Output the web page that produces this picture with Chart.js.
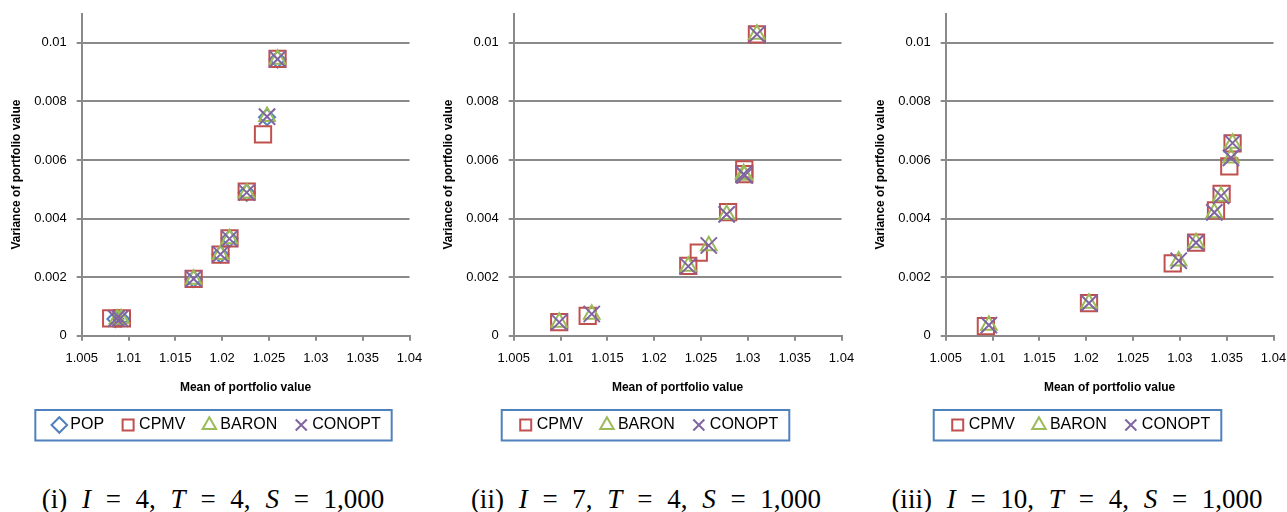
<!DOCTYPE html>
<html lang="en">
<head>
    <meta charset="UTF-8">
    <title>Mean-variance of portfolio value</title>
    <script src="https://cdn.jsdelivr.net/npm/chart.js"></script>
    <style>
        body { margin: 0; background: #fff; width: 1287px; height: 512px; position: relative; overflow: hidden; }
        .panel { position: absolute; top: 0; }
        .cap { position: absolute; top: 485px; line-height: 28px; white-space: nowrap; transform: translateX(-50%);
               font-family: 'Liberation Serif', 'DejaVu Serif', serif; font-size: 27px; color: #000;
               word-spacing: 8px; }
        .cap i { font-style: italic; }
    </style>
</head>
<body>
    <div class="panel" style="left:0px"><canvas id="c1" width="423" height="443"></canvas></div>
    <div class="panel" style="left:432px"><canvas id="c2" width="423" height="443"></canvas></div>
    <div class="panel" style="left:864px"><canvas id="c3" width="423" height="443"></canvas></div>

    <div class="cap" style="left:213px">(i) <i>I</i> = 4, <i>T</i> = 4, <i>S</i> = 1,000</div>
    <div class="cap" style="left:646px">(ii) <i>I</i> = 7, <i>T</i> = 4, <i>S</i> = 1,000</div>
    <div class="cap" style="left:1077px">(iii) <i>I</i> = 10, <i>T</i> = 4, <i>S</i> = 1,000</div>

    <script>
        // axis ticks
        const xTicks = [1.005, 1.01, 1.015, 1.02, 1.025, 1.03, 1.035, 1.04];
        const xTickLabels = ['1.005', '1.01', '1.015', '1.02', '1.025', '1.03', '1.035', '1.04'];
        const yTicks = [0, 0.002, 0.004, 0.006, 0.008, 0.01];
        const yTickLabels = ['0', '0.002', '0.004', '0.006', '0.008', '0.01'];

        // (i) I=4 : [mean, variance]
        const pop1    = [[1.0086, 0.00057], [1.0092, 0.00058], [1.01695, 0.00193], [1.01982, 0.00277], [1.02078, 0.00331], [1.02262, 0.00488], [1.02479, 0.00746], [1.02591, 0.00943]];
        const cpmv1   = [[1.00815, 0.00059], [1.00929, 0.00059], [1.01695, 0.00194], [1.01982, 0.00277], [1.02078, 0.00332], [1.02262, 0.00492], [1.02436, 0.00687], [1.02591, 0.00945]];
        const baron1  = [[1.0088, 0.00057], [1.0092, 0.00058], [1.01695, 0.00193], [1.01982, 0.00277], [1.02078, 0.00331], [1.02262, 0.00487], [1.02479, 0.00748], [1.02591, 0.00944]];
        const conopt1 = [[1.0087, 0.00058], [1.0091, 0.00058], [1.01695, 0.00194], [1.01982, 0.00278], [1.02078, 0.00331], [1.02262, 0.00489], [1.02479, 0.00748], [1.02591, 0.00944]];

        // (ii) I=7
        const cpmv2   = [[1.00986, 0.00046], [1.0129, 0.00068], [1.02364, 0.00238], [1.02476, 0.00284], [1.02789, 0.00422], [1.02962, 0.00568], [1.02962, 0.00552], [1.03097, 0.01029]];
        const baron2  = [[1.00986, 0.00046], [1.01333, 0.00073], [1.02364, 0.00237], [1.02583, 0.00307], [1.02774, 0.00414], [1.02955, 0.00553], [1.02962, 0.00548], [1.03097, 0.01029]];
        const conopt2 = [[1.00986, 0.00046], [1.01333, 0.00074], [1.02364, 0.00237], [1.02583, 0.00308], [1.02774, 0.00414], [1.02955, 0.00552], [1.02966, 0.00547], [1.03097, 0.01029]];

        // (iii) I=10
        const cpmv3   = [[1.00929, 0.00033], [1.0203, 0.00111], [1.02924, 0.00247], [1.03173, 0.00318], [1.03386, 0.00428], [1.03446, 0.00484], [1.03528, 0.00578], [1.03563, 0.00657]];
        const baron3  = [[1.00961, 0.00036], [1.0203, 0.00111], [1.02988, 0.00255], [1.03173, 0.00317], [1.03368, 0.0042], [1.0344, 0.00476], [1.03546, 0.00607], [1.03563, 0.00657]];
        const conopt3 = [[1.00961, 0.00036], [1.0203, 0.00111], [1.02988, 0.00256], [1.03173, 0.00318], [1.03368, 0.00421], [1.0344, 0.00477], [1.03546, 0.00607], [1.03563, 0.00658]];

        const styles = {
            POP:    { color: '#4f81bd', pointStyle: 'rectRot',  radius: 8,    order: 4 },
            CPMV:   { color: '#c0504d', pointStyle: 'rect',     radius: 11.5, order: 3 },
            BARON:  { color: '#9bbb59', pointStyle: 'triangle', radius: 9,    order: 2 },
            CONOPT: { color: '#8064a2', pointStyle: 'crossRot', radius: 11.5, order: 1 }
        };

        const gridGray = '#8a8a8a';
        Chart.defaults.font.family = "'Liberation Sans', Arial, sans-serif";
        Chart.defaults.color = '#000';

        // blue frame round the legend items
        const legendFrame = {
            id: 'legendFrame',
            afterDraw(chart) {
                const boxes = chart.legend && chart.legend.legendHitBoxes;
                if (!boxes || !boxes.length) return;
                const l = Math.min(...boxes.map(b => b.left)) - 21;
                const r = Math.max(...boxes.map(b => b.left + b.width)) + 11;
                const t = boxes[0].top - 7;
                const btm = boxes[0].top + boxes[0].height + 7.5;
                const ctx = chart.ctx;
                ctx.save();
                ctx.strokeStyle = '#4f81bd';
                ctx.lineWidth = 2;
                ctx.strokeRect(l, t, r - l, btm - t);
                ctx.restore();
            }
        };

        function makeChart(id, series) {
            const datasets = Object.keys(series).map(name => {
                const s = styles[name];
                return {
                    label: name,
                    data: series[name].map(p => ({ x: p[0], y: p[1] })),
                    pointStyle: s.pointStyle,
                    pointRadius: s.radius,
                    pointHoverRadius: s.radius,
                    borderColor: s.color,
                    backgroundColor: 'rgba(0,0,0,0)',
                    borderWidth: 2,
                    order: s.order
                };
            });

            new Chart(document.getElementById(id), {
                type: 'scatter',
                data: { datasets },
                options: {
                    responsive: false,
                    animation: false,
                    layout: { padding: { top: 0, right: 0, left: 14, bottom: 0 } },
                    scales: {
                        x: {
                            type: 'linear',
                            min: 1.005,
                            max: 1.04,
                            afterBuildTicks: s => { s.ticks = xTicks.map(v => ({ value: v })); },
                            afterFit: s => {
                                s.height = 60.3;
                                s.paddingLeft = 0; s.paddingRight = 12.3;
                                s.paddingTop = 0; s.paddingBottom = 0;
                            },
                            ticks: {
                                padding: 10,
                                maxRotation: 0,
                                font: { size: 13 },
                                callback: (v, i) => xTickLabels[i]
                            },
                            grid: { drawOnChartArea: false, drawTicks: true, tickLength: 5, color: gridGray, lineWidth: 2 },
                            border: { display: true, color: gridGray, width: 2 },
                            title: { display: true, text: 'Mean of portfolio value', font: { size: 12, weight: 'bold' }, padding: { top: 0, bottom: 1 } }
                        },
                        y: {
                            type: 'linear',
                            min: 0,
                            max: 0.011,
                            afterBuildTicks: s => { s.ticks = yTicks.map(v => ({ value: v })); },
                            afterFit: s => {
                                s.width = 67.7;
                                s.paddingTop = 13; s.paddingBottom = 0;
                                s.paddingLeft = 0; s.paddingRight = 0;
                            },
                            ticks: {
                                padding: 10,
                                font: { size: 13 },
                                callback: (v, i) => yTickLabels[i]
                            },
                            grid: { drawOnChartArea: true, drawTicks: true, tickLength: 5, color: gridGray, lineWidth: 2 },
                            border: { display: true, color: gridGray, width: 2 },
                            title: { display: true, text: 'Variance of portfolio value', font: { size: 12, weight: 'bold' }, padding: { top: -5, bottom: 0 } }
                        }
                    },
                    plugins: {
                        legend: {
                            position: 'bottom',
                            labels: {
                                usePointStyle: true,
                                boxWidth: 6,
                                boxHeight: 11,
                                padding: 21,
                                font: { size: 16 },
                                color: '#000',
                                sort: (a, b) => a.datasetIndex - b.datasetIndex
                            }
                        },
                        tooltip: { enabled: false }
                    }
                },
                plugins: [legendFrame]
            });
        }

        makeChart('c1', { POP: pop1, CPMV: cpmv1, BARON: baron1, CONOPT: conopt1 });
        makeChart('c2', { CPMV: cpmv2, BARON: baron2, CONOPT: conopt2 });
        makeChart('c3', { CPMV: cpmv3, BARON: baron3, CONOPT: conopt3 });
    </script>
</body>
</html>
